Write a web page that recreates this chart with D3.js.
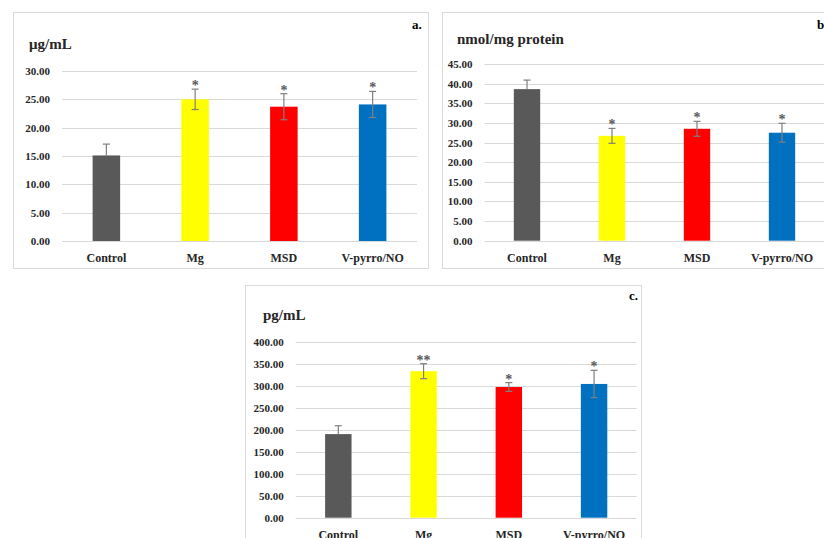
<!DOCTYPE html>
<html>
<head>
<meta charset="utf-8">
<title></title>
<style>
  body { margin: 0; background: #fff; }
  svg text { font-family: "Liberation Serif", "Times New Roman", serif; font-weight: bold; }
</style>
<script src="https://cdnjs.cloudflare.com/ajax/libs/d3/7.8.5/d3.min.js"></script>
</head>
<body>
<div id="chart"></div>
<script>
// shared categories + colours
var groups = ["Control", "Mg", "MSD", "V-pyrro/NO"];
var barColors = ["#595959", "#ffff00", "#ff0000", "#0070c0"];

// panel a. (ug/mL)
var aMeans = [15.1, 25.0, 23.7, 24.1];
var aSD = [2.0, 1.8, 2.3, 2.3];
var aStars = ["", "*", "*", "*"];
var aTicks = [0, 5, 10, 15, 20, 25, 30];

// panel b. (nmol/mg protein)
var bMeans = [38.6, 26.7, 28.5, 27.5];
var bSD = [2.3, 1.9, 1.9, 2.4];
var bStars = ["", "*", "*", "*"];
var bTicks = [0, 5, 10, 15, 20, 25, 30, 35, 40, 45];

// panel c. (pg/mL)
var cMeans = [190, 333, 297, 304];
var cSD = [19, 17, 10, 31];
var cStars = ["", "**", "*", "*"];
var cTicks = [0, 50, 100, 150, 200, 250, 300, 350, 400];

var svg = d3.select("#chart").append("svg")
    .attr("width", 824)
    .attr("height", 538);

function panel(p) {
    var g = svg.append("g");

    // frame
    g.append("rect")
        .attr("x", p.frame[0] + 0.5).attr("y", p.frame[1] + 0.5)
        .attr("width", p.frame[2]).attr("height", p.frame[3])
        .attr("fill", "#fff").attr("stroke", "#d9d9d9");

    var x = d3.scaleBand().domain(groups).range([p.x0, p.x1]).paddingInner(0.69).paddingOuter(0.345);
    var y = d3.scaleLinear().domain([0, d3.max(p.ticks)]).range([p.yBottom, p.yTop]);

    // gridlines
    g.selectAll(".grid").data(p.ticks).enter().append("line")
        .attr("x1", p.x0).attr("x2", p.x1)
        .attr("y1", d => Math.round(y(d)) + 0.5).attr("y2", d => Math.round(y(d)) + 0.5)
        .attr("stroke", "#d9d9d9").attr("stroke-width", 1);

    // y tick labels
    g.selectAll(".tick").data(p.ticks).enter().append("text")
        .attr("x", p.x0 - 12).attr("y", d => y(d) + 4)
        .attr("text-anchor", "end")
        .attr("font-size", "11px").attr("fill", "#262626")
        .text(d => d3.format(".2f")(d));

    // bars
    g.selectAll(".bar").data(p.means).enter().append("rect")
        .attr("x", (d, i) => x(groups[i]))
        .attr("width", x.bandwidth())
        .attr("y", d => y(d))
        .attr("height", d => y(0) - y(d))
        .attr("fill", (d, i) => barColors[i]);

    // error bars (control bar only shows the upper half)
    var cx = i => x(groups[i]) + x.bandwidth() / 2;
    p.means.forEach(function(m, i) {
        var lo = i === 0 ? m : m - p.sd[i];
        var hi = m + p.sd[i];
        g.append("line")
            .attr("x1", cx(i)).attr("x2", cx(i))
            .attr("y1", y(lo)).attr("y2", y(hi))
            .attr("stroke", "#7f7f7f").attr("stroke-width", 1.2);
        g.append("line")
            .attr("x1", cx(i) - 3.5).attr("x2", cx(i) + 3.5)
            .attr("y1", y(hi)).attr("y2", y(hi))
            .attr("stroke", "#7f7f7f").attr("stroke-width", 1.2);
        if (i !== 0) {
            g.append("line")
                .attr("x1", cx(i) - 3.5).attr("x2", cx(i) + 3.5)
                .attr("y1", y(lo)).attr("y2", y(lo))
                .attr("stroke", "#7f7f7f").attr("stroke-width", 1.2);
        }
        if (p.stars[i]) {
            g.append("text")
                .attr("x", cx(i)).attr("y", y(hi) + 1)
                .attr("text-anchor", "middle")
                .attr("font-size", "14px").attr("fill", "#595959")
                .text(p.stars[i]);
        }
    });

    // category labels
    g.selectAll(".cat").data(groups).enter().append("text")
        .attr("x", d => x(d) + x.bandwidth() / 2)
        .attr("y", p.yBottom + 21)
        .attr("text-anchor", "middle")
        .attr("font-size", "12px").attr("fill", "#262626")
        .text(d => d);

    // unit + panel letter
    g.append("text")
        .attr("x", p.unitPos[0]).attr("y", p.unitPos[1])
        .attr("font-size", "15px").attr("fill", "#262626")
        .text(p.unit);
    g.append("text")
        .attr("x", p.letterPos[0]).attr("y", p.letterPos[1])
        .attr("font-size", "13px").attr("fill", "#000")
        .text(p.letter);
}

panel({ frame: [13, 12, 415, 256], x0: 62, x1: 417, yTop: 71, yBottom: 241,
        ticks: aTicks, means: aMeans, sd: aSD, stars: aStars,
        unit: "\u03bcg/mL", unitPos: [29, 49], letter: "a.", letterPos: [412, 29] });

panel({ frame: [442, 12, 400, 256], x0: 484.5, x1: 824.5, yTop: 64, yBottom: 240.7,
        ticks: bTicks, means: bMeans, sd: bSD, stars: bStars,
        unit: "nmol/mg protein", unitPos: [457, 44], letter: "b.", letterPos: [817, 29] });

panel({ frame: [245, 285, 396, 270], x0: 295.7, x1: 636.7, yTop: 341.7, yBottom: 517.7,
        ticks: cTicks, means: cMeans, sd: cSD, stars: cStars,
        unit: "pg/mL", unitPos: [263, 320], letter: "c.", letterPos: [629, 300] });
</script>
</body>
</html>
